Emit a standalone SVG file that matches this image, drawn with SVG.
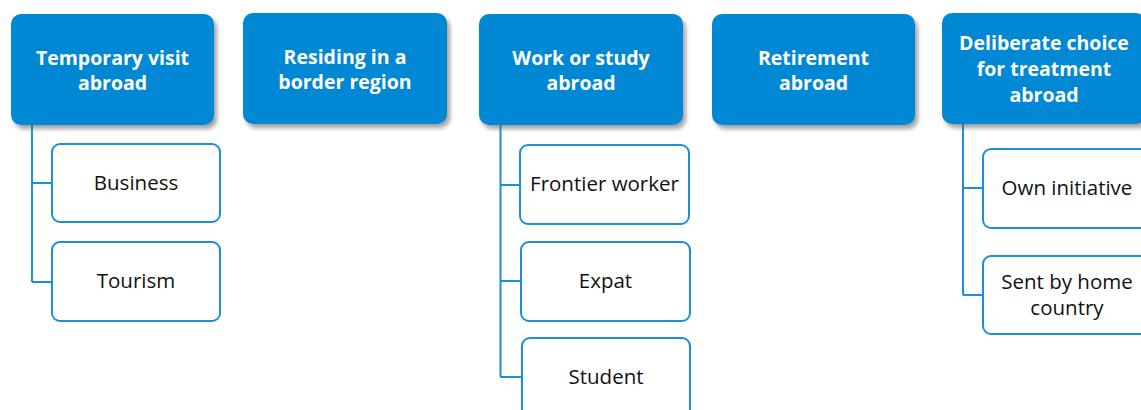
<svg xmlns="http://www.w3.org/2000/svg" width="1141" height="410" viewBox="0 0 1141 410">
  <defs>
    <filter id="shadow" x="-10%" y="-10%" width="125%" height="130%">
      <feDropShadow dx="3" dy="4" stdDeviation="2.2" flood-color="#555" flood-opacity="0.55"/>
    </filter>
  </defs>
  <style>
    .head rect { fill: #0288d4; filter: url(#shadow); }
    .head text { fill: #ffffff; font-family: "Open Sans", "Liberation Sans", sans-serif; font-weight: bold; font-size: 19.5px; text-anchor: middle; }
    .leaf rect { fill: #ffffff; stroke: #1a90d8; stroke-width: 2; }
    .leaf text { fill: #111111; font-family: "Open Sans", "Liberation Sans", sans-serif; font-size: 20.5px; text-anchor: middle; }
    .links path { fill: none; stroke: #1a90d8; stroke-width: 2; }
  </style>

  <!-- tree connectors -->
  <g id="connectors" class="links">
    <path d="M32 125 V282 M32 183 H52 M32 282 H52"/>
    <path d="M500.5 125 V377 M500.5 185 H520 M500.5 281 H521 M500.5 377 H522"/>
    <path d="M963 124 V295 M963 188 H983 M963 295 H983"/>
  </g>

  <!-- top-level categories -->
  <g id="temporary-visit" class="head">
    <rect x="11" y="14" width="203" height="111" rx="10"/>
    <text x="112.5" y="65">Temporary visit</text>
    <text x="112.5" y="90">abroad</text>
  </g>
  <g id="border-region" class="head">
    <rect x="243" y="13" width="204" height="111" rx="10"/>
    <text x="345" y="64">Residing in a</text>
    <text x="345" y="89">border region</text>
  </g>
  <g id="work-study" class="head">
    <rect x="479" y="14" width="204" height="111" rx="10"/>
    <text x="581" y="65">Work or study</text>
    <text x="581" y="90">abroad</text>
  </g>
  <g id="retirement" class="head">
    <rect x="712" y="14" width="203" height="111" rx="10"/>
    <text x="813.5" y="65">Retirement</text>
    <text x="813.5" y="90">abroad</text>
  </g>
  <g id="deliberate-choice" class="head">
    <rect x="942" y="13" width="204" height="111" rx="10"/>
    <text x="1044" y="50">Deliberate choice</text>
    <text x="1044" y="76">for treatment</text>
    <text x="1044" y="102">abroad</text>
  </g>

  <!-- sub-categories -->
  <g id="business" class="leaf">
    <rect x="52" y="144" width="168" height="78" rx="8"/>
    <text x="136" y="190">Business</text>
  </g>
  <g id="tourism" class="leaf">
    <rect x="52" y="242" width="168" height="79" rx="8"/>
    <text x="136" y="288">Tourism</text>
  </g>
  <g id="frontier-worker" class="leaf">
    <rect x="520" y="145" width="169" height="79" rx="8"/>
    <text x="604.5" y="191">Frontier worker</text>
  </g>
  <g id="expat" class="leaf">
    <rect x="521" y="242" width="169" height="79" rx="8"/>
    <text x="605.5" y="288">Expat</text>
  </g>
  <g id="student" class="leaf">
    <rect x="522" y="338" width="168" height="79" rx="8"/>
    <text x="606" y="384">Student</text>
  </g>
  <g id="own-initiative" class="leaf">
    <rect x="983" y="149" width="168" height="79" rx="8"/>
    <text x="1067" y="195">Own initiative</text>
  </g>
  <g id="sent-by-home" class="leaf">
    <rect x="983" y="256" width="168" height="78" rx="8"/>
    <text x="1067" y="289">Sent by home</text>
    <text x="1067" y="315">country</text>
  </g>
</svg>
